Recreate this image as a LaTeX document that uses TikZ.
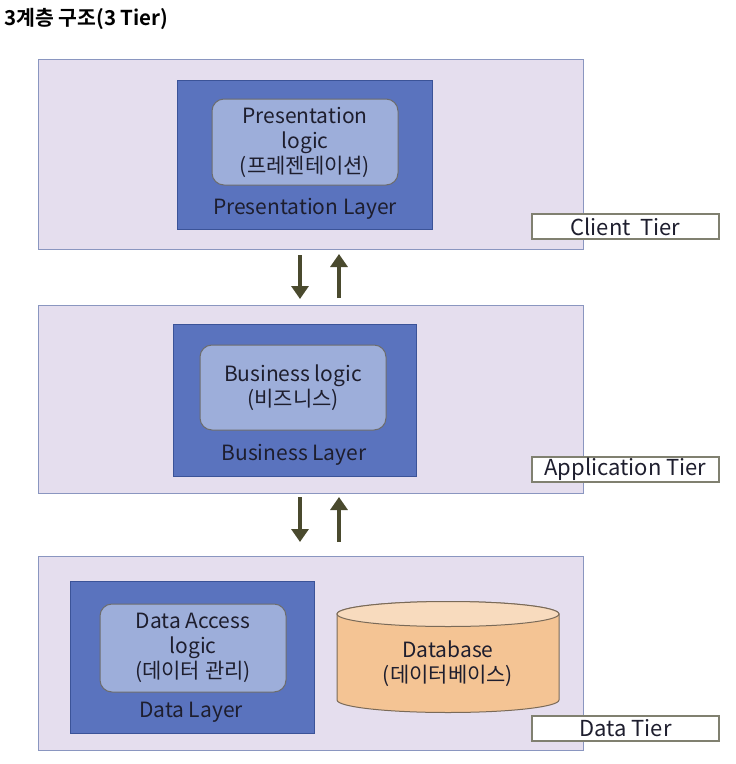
\documentclass[tikz,border=0pt]{standalone}
\usepackage{fontspec}
\setmainfont{Noto Sans CJK KR}
\newfontfamily\titlefont{Noto Sans CJK KR}[BoldFont={* Bold}]
\usetikzlibrary{arrows.meta,positioning}
\definecolor{tierfill}{HTML}{E5DEEE}
\definecolor{tierdraw}{HTML}{8A96C0}
\definecolor{layerfill}{HTML}{5A73BE}
\definecolor{layerdraw}{HTML}{3B5398}
\definecolor{logicfill}{HTML}{9DAEDA}
\definecolor{logicdraw}{HTML}{6D6D6D}
\definecolor{txt}{HTML}{1E1E2E}
\definecolor{arrowc}{HTML}{4A4A2E}
\definecolor{dbbody}{HTML}{F4C494}
\definecolor{dbtop}{HTML}{F8DBBE}
\definecolor{dbdraw}{HTML}{7A6A58}
\definecolor{labeldraw}{HTML}{808070}
\tikzset{
  tierbox/.style={draw=tierdraw, fill=tierfill, line width=1pt},
  layerbox/.style={draw=layerdraw, fill=layerfill, line width=1pt},
  logicbox/.style={draw=logicdraw, fill=logicfill, line width=1pt, rounded corners=12pt},
  tierlabel/.style={draw=labeldraw, fill=white, line width=1.2pt, minimum width=187pt, minimum height=25pt, inner sep=0pt, font=\fontsize{22}{24}\selectfont, text=txt},
  txtnode/.style={text=txt, font=\fontsize{21}{25}\selectfont, align=center, inner sep=0pt},
  flow/.style={draw=arrowc, line width=3.2pt, -{Triangle[width=17pt,length=13pt]}},
}
\begin{document}
\begin{tikzpicture}[x=1pt,y=-1pt]
\useasboundingbox (0,0) rectangle (736,764);
% title
\node[anchor=west, inner sep=0pt, font=\titlefont\bfseries\fontsize{20.5}{22}\selectfont] (title) at (4,19) {3계층 구조(3 Tier)};

% Tier 1
\draw[tierbox] (38,59) rectangle (583,249);
\draw[layerbox] (177,80) rectangle (432,229);
\draw[logicbox] (212,99) rectangle (398,185);
\node[txtnode] (plogic) at (305,142) {Presentation\\logic\\(프레젠테이션)};
\node[txtnode] (player) at (305,209) {Presentation Layer};
\node[tierlabel] (client) at (625.5,226.5) {Client\ \ Tier};

% arrows 1
\coordinate (a1t) at (300,255);
\coordinate (a1b) at (300,299);
\coordinate (b1t) at (339,254);
\coordinate (b1b) at (339,298);
\draw[flow] (a1t) -- (a1b);
\draw[flow] (b1b) -- (b1t);

% Tier 2
\draw[tierbox] (38,305) rectangle (583,493);
\draw[layerbox] (173,324) rectangle (416,476);
\draw[logicbox] (200,345) rectangle (386,430);
\node[txtnode] (blogic) at (293,388) {Business logic\\(비즈니스)};
\node[txtnode] (blayer) at (294,455) {Business Layer};
\node[tierlabel] (app) at (625.5,469.5) {Application Tier};

% arrows 2
\coordinate (a2t) at (300,497);
\coordinate (a2b) at (300,542);
\coordinate (b2t) at (339,497);
\coordinate (b2b) at (339,542);
\draw[flow] (a2t) -- (a2b);
\draw[flow] (b2b) -- (b2t);

% Tier 3
\draw[tierbox] (38,556) rectangle (583,750);
\draw[layerbox] (70,581) rectangle (314,733);
\draw[logicbox] (100,604) rectangle (286,692);
\node[txtnode] (dlogic) at (193,648) {Data Access\\logic\\(데이터 관리)};
\node[txtnode] (dlayer) at (191,712) {Data Layer};

% database cylinder
\draw[draw=dbdraw, fill=dbbody, line width=1pt]
  (337,614) -- (337,700) arc[start angle=180, end angle=360, x radius=111, y radius=-12.5] -- (559,614) arc[start angle=0, end angle=180, x radius=111, y radius=-12.5] -- cycle;
\draw[draw=dbdraw, fill=dbtop, line width=1pt] (448,614) ellipse[x radius=111, y radius=12.5];
\node[txtnode] (db) at (448,664) {Database\\(데이터베이스)};

\node[tierlabel] (datatier) at (625.5,728.5) {Data Tier};
\end{tikzpicture}
\end{document}
